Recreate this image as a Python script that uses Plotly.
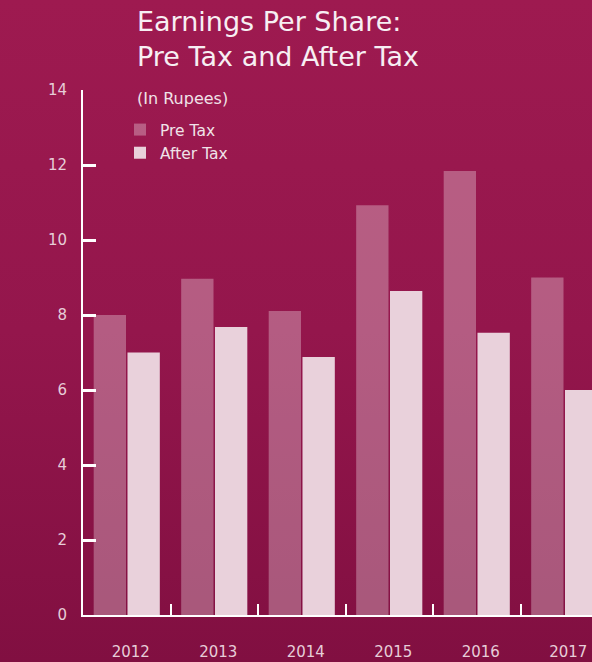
import base64
import plotly.graph_objects as go

# Earnings per share (in rupees)
years = ["2012", "2013", "2014", "2015", "2016", "2017"]
pre_tax = [8.0, 8.97, 8.11, 10.93, 11.84, 9.0]
after_tax = [7.0, 7.68, 6.88, 8.64, 7.53, 6.0]
y_ticks = [0, 2, 4, 6, 8, 10, 12, 14]

W, H = 592, 662
M_L, M_R, M_T, M_B = 83, 0, 90, 47
plot_w = W - M_L - M_R
plot_h = H - M_T - M_B

FONT = "DejaVu Sans"
LABEL = "#e7cdd8"
TEXT = "#f0e2e8"


def px_x(px):
    """page x pixel -> paper fraction"""
    return (px - M_L) / plot_w


def px_y(px):
    """page y pixel (from top) -> paper fraction"""
    return (H - M_B - px) / plot_h


# vertical crimson gradient used as the page background
svg = (
    '<svg xmlns="http://www.w3.org/2000/svg" width="100" height="100" '
    'preserveAspectRatio="none" viewBox="0 0 100 100">'
    '<defs><linearGradient id="g" x1="0" y1="0" x2="0" y2="1">'
    '<stop offset="0" stop-color="#9e1a50"/>'
    '<stop offset="0.5" stop-color="#94164c"/>'
    '<stop offset="1" stop-color="#810f41"/>'
    '</linearGradient></defs>'
    '<rect width="100" height="100" fill="url(#g)"/></svg>'
)
bg_src = "data:image/svg+xml;base64," + base64.b64encode(svg.encode()).decode()

fig = go.Figure()
fig.add_trace(go.Bar(
    name="Pre Tax", x=years, y=pre_tax,
    marker=dict(color="rgba(255,255,255,0.30)", line=dict(width=0)),
))
fig.add_trace(go.Bar(
    name="After Tax", x=years, y=after_tax,
    marker=dict(color="#e9d1db", line=dict(width=0)),
))

fig.update_layout(
    width=W, height=H,
    margin=dict(l=M_L, r=M_R, t=M_T, b=M_B),
    paper_bgcolor="#93164c",
    plot_bgcolor="rgba(0,0,0,0)",
    barmode="group",
    bargap=0.227,
    bargroupgap=0.044,
    font=dict(family=FONT, color=LABEL),
    images=[dict(
        source=bg_src, xref="paper", yref="paper",
        x=-M_L / plot_w, y=1 + M_T / plot_h,
        sizex=W / plot_w, sizey=H / plot_h,
        xanchor="left", yanchor="top",
        sizing="stretch", layer="below",
    )],
    showlegend=True,
    legend=dict(
        x=px_x(136 - 16), xanchor="left",
        y=px_y(113), yanchor="top",
        bgcolor="rgba(0,0,0,0)",
        font=dict(family=FONT, size=15.5, color=TEXT),
        traceorder="normal",
        tracegroupgap=0,
    ),
    annotations=[
        dict(
            text="Earnings Per Share:<br>Pre Tax and After Tax",
            xref="paper", yref="paper",
            x=px_x(135), y=px_y(4),
            xanchor="left", yanchor="top", align="left", showarrow=False,
            font=dict(family=FONT, size=27, color="#f7eff3"),
        ),
        dict(
            text="(In Rupees)", xref="paper", yref="paper",
            x=px_x(135), y=px_y(99),
            xanchor="left", yanchor="middle", showarrow=False,
            font=dict(family=FONT, size=16, color=TEXT),
        ),
    ],
)

fig.update_xaxes(
    type="category",
    range=[-0.5, -0.5 + plot_w / 87.5],
    showline=True, linecolor="white", linewidth=2,
    ticks="inside", tickson="boundaries", ticklen=11, tickwidth=2, tickcolor="white",
    showgrid=False, zeroline=False,
    tickfont=dict(family=FONT, size=15, color=LABEL),
    ticklabelstandoff=22, ticklabelshift=4,
)
fig.update_yaxes(
    range=[0, 14], tickvals=y_ticks,
    showline=True, linecolor="white", linewidth=2,
    ticks="inside", ticklen=13, tickwidth=3, tickcolor="white",
    showgrid=False, zeroline=False,
    tickfont=dict(family=FONT, size=15, color=LABEL),
    ticklabelstandoff=11,
)

fig.write_html("out.html")
